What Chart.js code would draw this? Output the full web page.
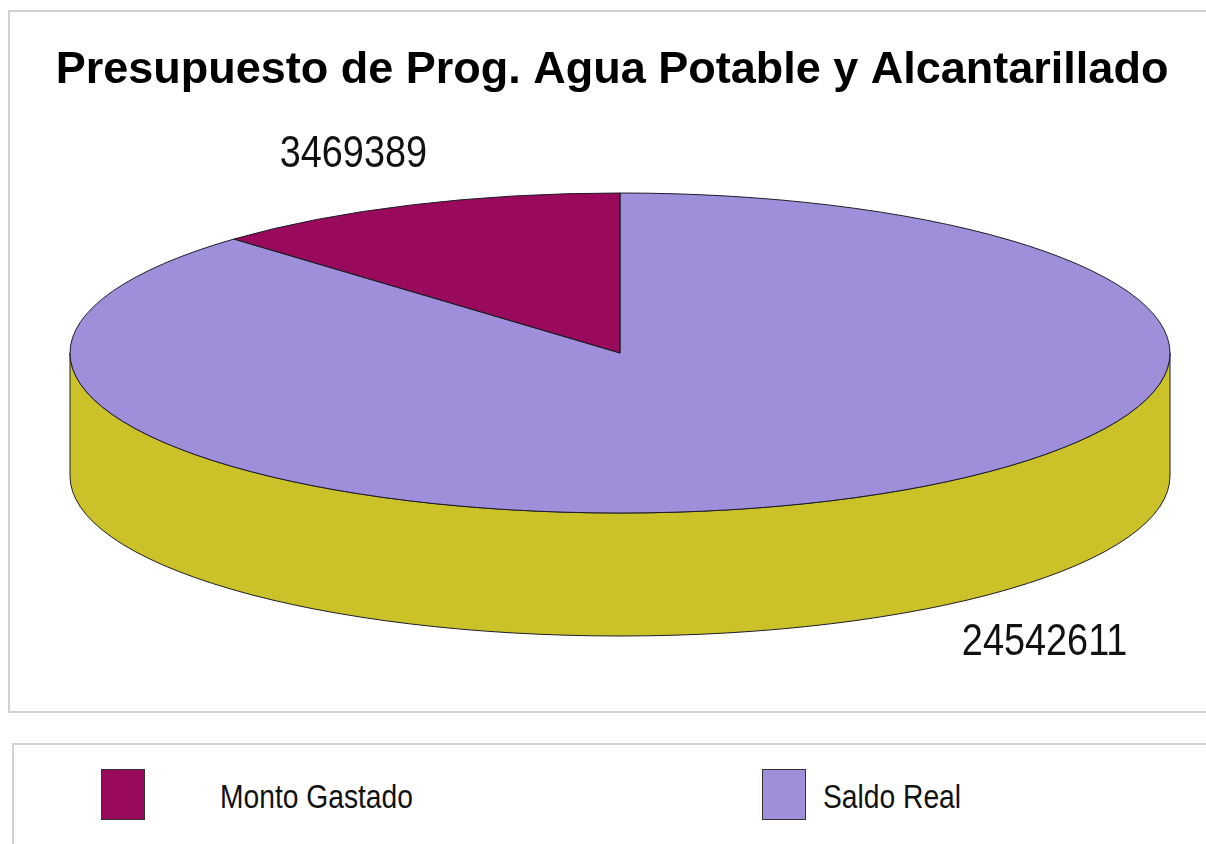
<!DOCTYPE html>
<html>
<head>
<meta charset="utf-8">
<title>Presupuesto de Prog. Agua Potable y Alcantarillado</title>
<script src="https://cdn.jsdelivr.net/npm/chart.js@4/dist/chart.umd.min.js"></script>
<style>
    html, body {
        margin: 0;
        padding: 0;
        width: 1206px;
        height: 844px;
        overflow: hidden;
        background: #ffffff;
        font-family: "Liberation Sans", Arial, Helvetica, sans-serif;
    }
    #chartFrame {
        position: absolute;
        left: 8px;
        top: 10px;
        width: 1230px;
        height: 703px;
        border: 2px solid #d2d2d2;
        box-sizing: border-box;
    }
    #legendFrame {
        position: absolute;
        left: 12px;
        top: 743px;
        width: 1230px;
        height: 160px;
        border: 2px solid #d2d2d2;
        box-sizing: border-box;
    }
    #chartBox {
        position: absolute;
        left: 0;
        top: 0;
        width: 1206px;
        height: 712px;
    }
    .swatch {
        position: absolute;
        top: 769px;
        width: 44px;
        height: 51px;
        border: 1px solid #333333;
        box-sizing: border-box;
    }
    .legendText {
        position: absolute;
        top: 780px;
        font-size: 33px;
        line-height: 1;
        color: #111111;
        white-space: nowrap;
        transform: scaleX(0.855);
        transform-origin: left center;
    }
</style>
</head>
<body>
<div id="chartFrame"></div>
<div id="legendFrame"></div>
<div id="chartBox"><canvas id="pieChart"></canvas></div>
<div id="legend"></div>

<script>
// --- data ---
const chartTitle = "Presupuesto de Prog. Agua Potable y Alcantarillado";
const categories = ["Monto Gastado", "Saldo Real"];
const values = [3469389, 24542611];

// --- styling ---
const topColors = ["#990a5c", "#9f8fda"];
const sideColors = ["#6e0742", "#cbc22a"];
const outlineColor = "#1c1c28";
const fontFamily = '"Liberation Sans", Arial, Helvetica, sans-serif';

// where the flat pie ends up on the page (top face of the cylinder)
const disc = { x: 620, y: 353, rx: 550, ry: 160, depth: 123 };
// nudges for the value labels, relative to the rim at mid-angle
const labelShift = [[-58, -38], [216, 154]];
// legend placement
const legendSwatchX = [101, 762];
const legendTextX = [220, 823];

const total = values.reduce((a, b) => a + b, 0);
// first slice ends at 12 o'clock, like the original
const startRotation = -360 * values[0] / total;

// Draws the pie as a tilted disc: walls first, then the squashed top face
const pie3d = {
    id: "pie3d",
    beforeDatasetsDraw(chart) {
        const ctx = chart.ctx;
        const arcs = chart.getDatasetMeta(0).data;

        // front wall, only the part facing us (angles 0..PI)
        ctx.save();
        ctx.lineWidth = 1;
        ctx.strokeStyle = outlineColor;
        arcs.forEach((arc, i) => {
            for (let k = -1; k <= 1; k++) {
                const s = Math.max(arc.startAngle + k * 2 * Math.PI, 0);
                const e = Math.min(arc.endAngle + k * 2 * Math.PI, Math.PI);
                if (e <= s) continue;
                ctx.beginPath();
                ctx.ellipse(disc.x, disc.y, disc.rx, disc.ry, 0, s, e);
                ctx.lineTo(disc.x + disc.rx * Math.cos(e), disc.y + disc.depth + disc.ry * Math.sin(e));
                ctx.ellipse(disc.x, disc.y + disc.depth, disc.rx, disc.ry, 0, e, s, true);
                ctx.closePath();
                ctx.fillStyle = sideColors[i];
                ctx.fill();
                ctx.stroke();
            }
        });
        ctx.restore();

        // squash the library's circle into the ellipse
        const a0 = arcs[0];
        const r = a0.outerRadius;
        ctx.save();
        ctx.translate(disc.x, disc.y);
        ctx.scale(disc.rx / r, disc.ry / r);
        ctx.translate(-a0.x, -a0.y);
    },
    afterDatasetsDraw(chart) {
        const ctx = chart.ctx;
        const arcs = chart.getDatasetMeta(0).data;

        // build outlines under the transform, stroke them without it
        ctx.beginPath();
        arcs.forEach(arc => {
            ctx.moveTo(arc.x, arc.y);
            ctx.arc(arc.x, arc.y, arc.outerRadius, arc.startAngle, arc.endAngle);
            ctx.closePath();
        });
        ctx.restore();

        ctx.save();
        ctx.lineWidth = 1;
        ctx.strokeStyle = outlineColor;
        ctx.stroke();
        ctx.restore();
    },
    afterDraw(chart) {
        const ctx = chart.ctx;
        const arcs = chart.getDatasetMeta(0).data;
        ctx.save();
        ctx.font = "44px " + fontFamily;
        ctx.fillStyle = "#111111";
        ctx.textAlign = "center";
        ctx.textBaseline = "alphabetic";
        arcs.forEach((arc, i) => {
            const mid = (arc.startAngle + arc.endAngle) / 2;
            const px = disc.x + disc.rx * Math.cos(mid) + labelShift[i][0];
            const py = disc.y + disc.ry * Math.sin(mid) + labelShift[i][1];
            ctx.save();
            ctx.translate(px, py);
            ctx.scale(0.86, 1);
            ctx.fillText(String(values[i]), 0, 0);
            ctx.restore();
        });
        ctx.restore();
    }
};

const ctx = document.getElementById("pieChart").getContext("2d");
new Chart(ctx, {
    type: "pie",
    data: {
        labels: categories,
        datasets: [{
            data: values,
            backgroundColor: topColors,
            borderWidth: 0
        }]
    },
    options: {
        responsive: true,
        maintainAspectRatio: false,
        animation: false,
        events: [],
        rotation: startRotation,
        layout: {
            padding: { left: 18, right: 0, top: 0, bottom: 0 }
        },
        plugins: {
            title: {
                display: true,
                text: chartTitle,
                color: "#000000",
                font: { family: fontFamily, size: 45, weight: "bold" },
                padding: { top: 44, bottom: 20 }
            },
            legend: { display: false },
            tooltip: { enabled: false }
        }
    },
    plugins: [pie3d]
});

// === Legend (own frame below the chart) ===
const legendBox = document.getElementById("legend");
categories.forEach((name, i) => {
    const sw = document.createElement("div");
    sw.className = "swatch";
    sw.style.left = legendSwatchX[i] + "px";
    sw.style.background = topColors[i];
    legendBox.appendChild(sw);

    const txt = document.createElement("div");
    txt.className = "legendText";
    txt.style.left = legendTextX[i] + "px";
    txt.innerText = name;
    legendBox.appendChild(txt);
});
</script>
</body>
</html>
